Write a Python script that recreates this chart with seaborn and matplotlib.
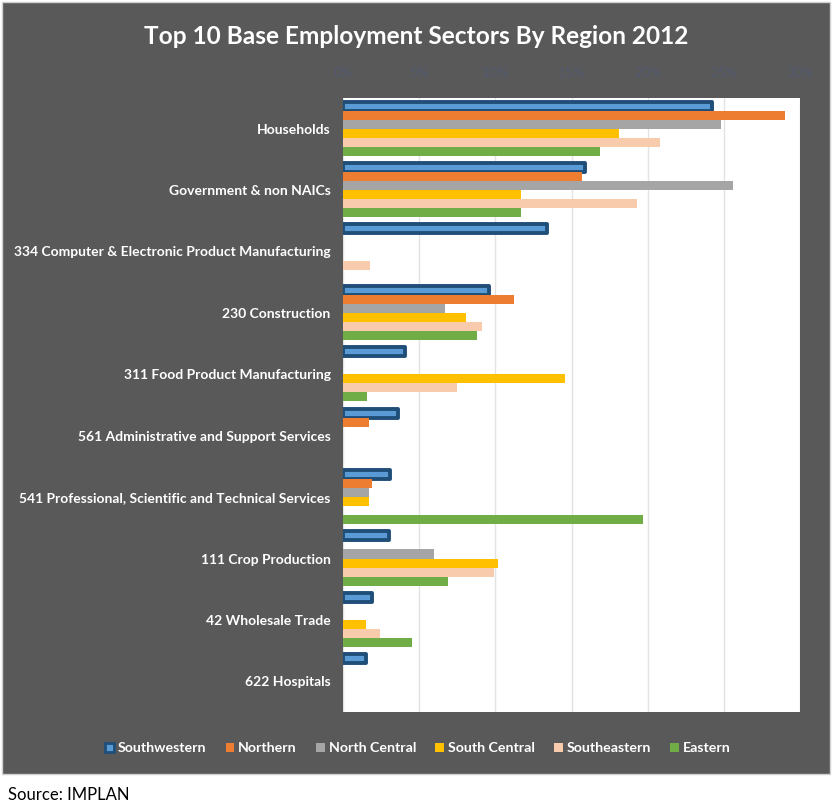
import matplotlib
matplotlib.use("Agg")
import matplotlib.pyplot as plt
import seaborn as sns
import pandas as pd
from matplotlib.patches import Rectangle
from matplotlib.ticker import FuncFormatter

sectors = [
    "Households",
    "Government & non NAICs",
    "334 Computer & Electronic Product Manufacturing",
    "230 Construction",
    "311 Food Product Manufacturing",
    "561 Administrative and Support Services",
    "541 Professional, Scientific and Technical Services",
    "111 Crop Production",
    "42 Wholesale Trade",
    "622 Hospitals",
]
regions = ["Southwestern", "Northern", "North Central", "South Central", "Southeastern", "Eastern"]

southwestern = [24.2, 15.9, 13.4, 9.6, 4.1, 3.6, 3.1, 3.0, 1.9, 1.5]
northern = [29.0, 15.7, 0.0, 11.2, 0.0, 1.7, 1.9, 0.0, 0.0, 0.0]
north_central = [24.8, 25.6, 0.0, 6.7, 0.0, 0.0, 1.7, 6.0, 0.0, 0.0]
south_central = [18.1, 11.7, 0.0, 8.1, 14.6, 0.0, 1.7, 10.2, 1.5, 0.0]
southeastern = [20.8, 19.3, 1.8, 9.1, 7.5, 0.0, 0.0, 9.9, 2.4, 0.0]
eastern = [16.9, 11.7, 0.0, 8.8, 1.6, 0.0, 19.7, 6.9, 4.5, 0.0]

colors = ["#5b9bd5", "#ed7d31", "#a5a5a5", "#ffc000", "#f8cbad", "#70ad47"]

series = [southwestern, northern, north_central, south_central, southeastern, eastern]
rows = []
for reg, vals in zip(regions, series):
    for sec, v in zip(sectors, vals):
        rows.append({"sector": sec, "region": reg, "value": v})
df = pd.DataFrame(rows)

sns.set_theme(style="white")
plt.rcParams["font.family"] = ["Lato", "DejaVu Sans"]

fig = plt.figure(figsize=(8.32, 8.11), dpi=100)
fig.patch.set_facecolor("white")
W, H = 832, 811
fig.patches.append(Rectangle((2 / W, 1 - 774 / H), 828 / W, 772 / H, transform=fig.transFigure,
                             facecolor="#595959", edgecolor="#d0d0d0", linewidth=1, zorder=0))

ax = fig.add_axes([343 / W, 1 - 712 / H, (800 - 343) / W, (712 - 98) / H])
ax.set_zorder(1)
sns.barplot(data=df, y="sector", x="value", hue="region", order=sectors, hue_order=regions,
            palette=colors, orient="h", width=0.88, saturation=1, ax=ax, legend=True, linewidth=0)

for p in ax.containers[0]:
    p.set_edgecolor("#1f4e79")
    p.set_linewidth(2.8)
    p.set_joinstyle("round")

ax.set_xlim(0, 30)
ax.set_xticks([0, 5, 10, 15, 20, 25, 30])
ax.xaxis.set_major_formatter(FuncFormatter(lambda v, _: f"{v:.0f}%"))
ax.xaxis.tick_top()
ax.tick_params(axis="x", length=0, labelsize=10, labelcolor="#535a6e", pad=14)
ax.tick_params(axis="y", length=0, labelsize=10, labelcolor="white", pad=9)
for t in ax.get_yticklabels():
    t.set_fontweight("bold")
ax.set_xlabel("")
ax.set_ylabel("")
ax.grid(axis="x", color="#e3e3e3", linewidth=1)
ax.set_axisbelow(True)
for s in ax.spines.values():
    s.set_visible(False)
ax.set_facecolor("white")

handles, labels = ax.get_legend_handles_labels()
ax.legend_.remove()
leg = fig.legend(handles, labels, loc="center", bbox_to_anchor=(418 / W, 1 - 748 / H), ncol=6,
                 frameon=False, fontsize=10.2, handlelength=0.6, handleheight=0.6,
                 handletextpad=0.3, columnspacing=1.35)
for t in leg.get_texts():
    t.set_color("white")
    t.set_fontweight("bold")
lh = leg.legend_handles[0]
lh.set_edgecolor("#1f4e79")
lh.set_linewidth(2)

fig.text(416 / W, 1 - 36 / H, "Top 10 Base Employment Sectors By Region 2012", ha="center", va="center",
         color="white", fontsize=17.6, fontweight="bold")
fig.text(8 / W, 1 - 795 / H, "Source: IMPLAN", ha="left", va="center", color="black", fontsize=12)

fig.savefig("out.png", dpi=100, facecolor=fig.get_facecolor())
